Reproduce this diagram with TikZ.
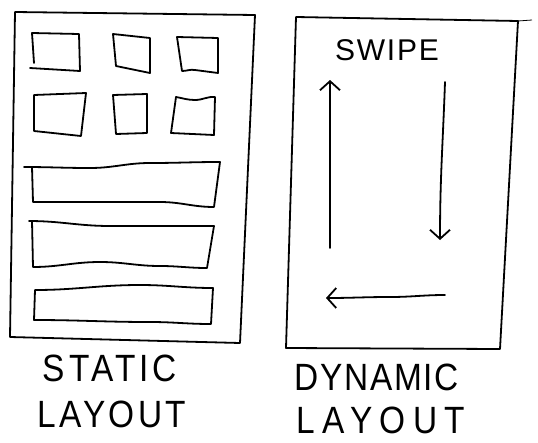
\documentclass[tikz,border=0pt]{standalone}
\usepackage{fontspec}
\setmainfont{Liberation Sans}
\usetikzlibrary{arrows.meta}
\begin{document}
\begin{tikzpicture}[x=1pt,y=-1pt,
  ink/.style={line width=1.8pt,line join=round,line cap=round},
  swipe/.style={ink,-{Straight Barb[length=9pt,width=20pt,line width=1.8pt]}},
  hand/.style={font=\fontsize{38}{38}\selectfont\addfontfeature{LetterSpace=#1},inner sep=0pt,xscale=0.88},
  hand/.default=8]
\useasboundingbox (0,0) rectangle (538,442);
% static frame
\draw[ink] (15,12) -- (255,15) -- (240,343) -- (10,337) -- cycle;
% small boxes
\draw[ink] (32,33) -- (79,34) -- (80,71) -- (30,68);
\draw[ink] (32,33) -- (34,63);
\draw[ink] (113,34) -- (150,38) -- (150,73) -- (116,66) -- cycle;
\draw[ink] (177,37) -- (218,38) -- (218,73) -- (195,70) to[out=170,in=0] (182,71) -- cycle;
\draw[ink] (34,95) -- (86,93) -- (81,136) -- (34,131) -- cycle;
\draw[ink] (113,95) -- (147,94) -- (147,133) -- (116,134) -- cycle;
\draw[ink] (176,97) to[out=-10,in=180] (195,100) to[out=0,in=175] (215,97) -- (214,135) -- (171,133) -- cycle;
% wide boxes
\draw[ink] (24,167) to[out=0,in=180] (90,168) to[out=0,in=180] (150,163) to[out=0,in=180] (220,162) -- (214,207) to[out=180,in=0] (160,202) to[out=180,in=0] (33,202) -- (32,167);
\draw[ink] (29,221) to[out=0,in=180] (110,226) to[out=0,in=180] (214,226) -- (207,268) to[out=180,in=0] (160,266) to[out=180,in=0] (100,262) to[out=180,in=0] (33,267) -- (32,221);
\draw[ink] (35,290) to[out=0,in=180] (140,285) to[out=0,in=180] (213,288) -- (211,324) to[out=180,in=0] (150,322) to[out=180,in=0] (34,320) -- cycle;
% dynamic frame
\draw[ink] (296,17) -- (518,21) -- (500,349) -- (286,348) -- cycle;
\draw[line width=0.8pt] (518,21) -- (532,20);
\node (swipe) at (387,50) {\fontsize{30}{30}\selectfont\addfontfeature{LetterSpace=6}SWIPE};
% swipe arrows
\coordinate (ua) at (330,248);
\coordinate (ub) at (330,80);
\coordinate (da) at (445,82);
\coordinate (db) at (440,240);
\coordinate (la) at (445,295);
\coordinate (lb) at (326,298);
\draw[swipe] (ua) -- (ub);
\draw[swipe] (da) to[out=-92,in=90] (db);
\draw[swipe] (la) to[out=180,in=0] (390,297) to[out=180,in=0] (lb);
% labels
\node[hand=12] (s1) at (110,368) {STATIC};
\node[hand=10] (s2) at (112,414) {LAYOUT};
\node[hand=5] (d1) at (377,377) {DYNAMIC};
\node[hand=22] (d2) at (381,420) {LAYOUT};
\end{tikzpicture}
\end{document}
